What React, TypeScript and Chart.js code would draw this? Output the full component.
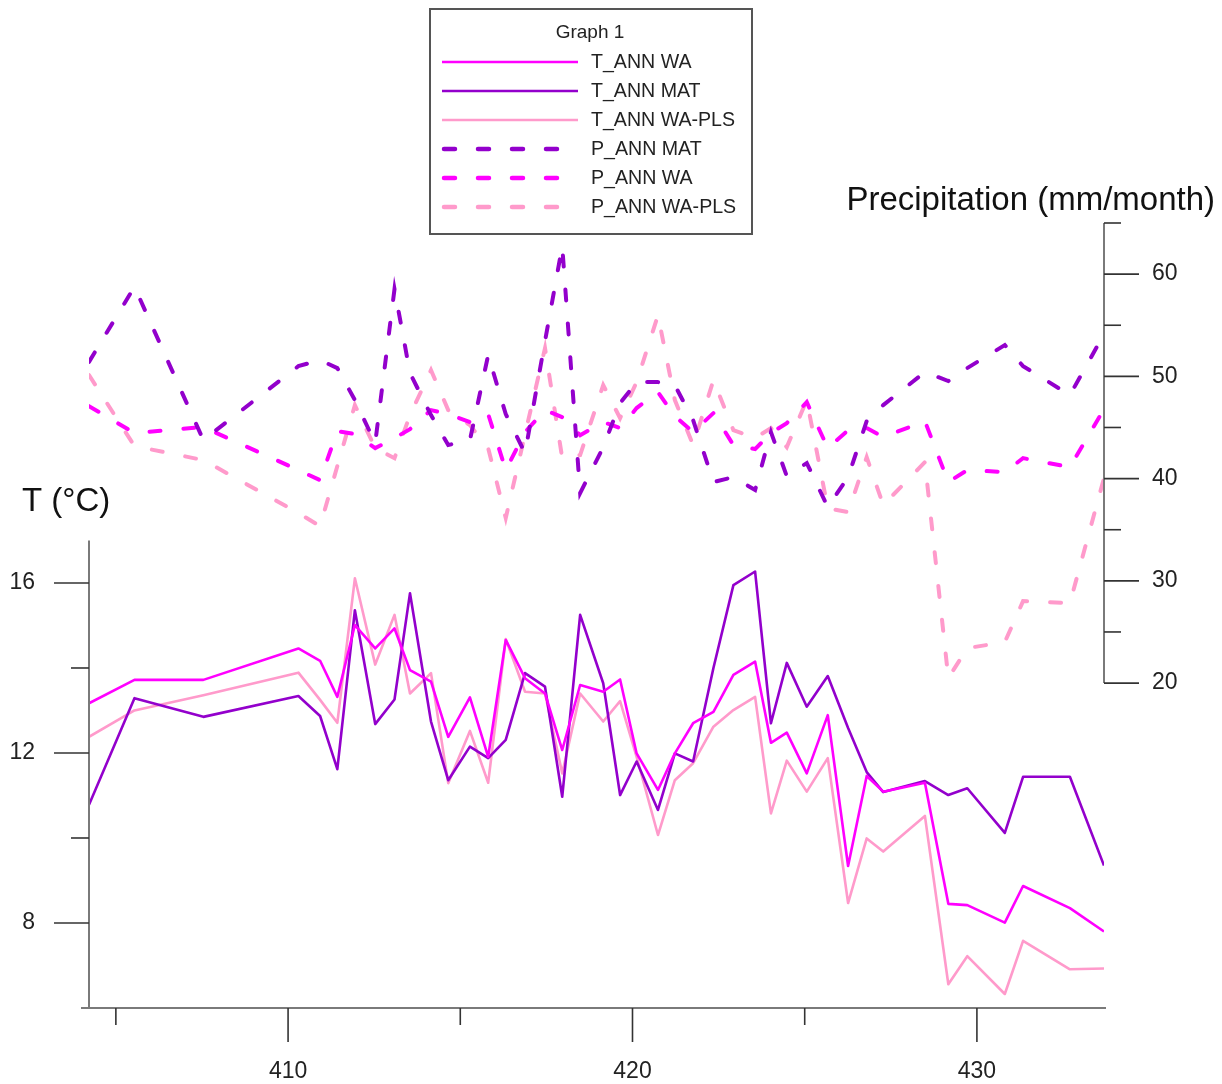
import React, { useEffect, useRef } from "react";
import { Chart, registerables } from "chart.js";

Chart.register(...registerables);

// ---- Data (ages in ka, shared by all series) ----
const ages = [404.22, 405.54, 407.54, 410.30, 410.93, 411.43, 411.94, 412.53, 413.09, 413.54, 414.15, 414.65, 415.28, 415.81, 416.32, 416.88, 417.46, 417.96, 418.48, 419.15, 419.64, 420.12, 420.74, 421.23, 421.76, 422.35, 422.93, 423.56, 424.02, 424.48, 425.06, 425.67, 426.26, 426.80, 427.28, 428.49, 429.17, 429.72, 430.81, 431.34, 432.70, 433.69];

const tWA = [13.17, 13.72, 13.72, 14.46, 14.17, 13.32, 15.01, 14.46, 14.93, 13.95, 13.68, 12.38, 13.31, 11.91, 14.66, 13.76, 13.40, 12.07, 13.60, 13.44, 13.73, 11.99, 11.13, 11.99, 12.70, 12.97, 13.84, 14.15, 12.24, 12.48, 11.52, 12.89, 9.34, 11.46, 11.09, 11.30, 8.45, 8.42, 8.01, 8.87, 8.35, 7.80];
const tMAT = [10.78, 13.29, 12.85, 13.34, 12.87, 11.62, 15.36, 12.68, 13.26, 15.76, 12.74, 11.36, 12.15, 11.88, 12.31, 13.88, 13.56, 10.97, 15.25, 13.64, 11.01, 11.80, 10.66, 11.99, 11.80, 14.00, 15.95, 16.27, 12.70, 14.12, 13.09, 13.81, 12.59, 11.55, 11.08, 11.34, 11.01, 11.17, 10.12, 11.44, 11.44, 9.35];
const tPLS = [12.38, 13.00, 13.36, 13.89, 13.25, 12.71, 16.11, 14.08, 15.25, 13.40, 13.88, 11.29, 12.52, 11.30, 14.68, 13.44, 13.40, 11.52, 13.40, 12.74, 13.22, 11.91, 10.07, 11.36, 11.76, 12.62, 13.01, 13.32, 10.58, 11.82, 11.09, 11.88, 8.47, 9.99, 9.68, 10.52, 6.56, 7.22, 6.33, 7.58, 6.91, 6.93];

const pMAT = [51.42, 58.76, 43.77, 51.0, 51.59, 50.81, 47.68, 43.47, 58.53, 50.32, 46.21, 43.28, 43.77, 52.08, 46.31, 42.49, 53.45, 62.74, 38.58, 43.08, 47.38, 49.44, 49.44, 49.14, 45.72, 39.66, 40.15, 38.88, 44.55, 40.24, 41.52, 37.21, 40.15, 45.62, 47.19, 50.42, 49.54, 50.81, 53.06, 51.0, 48.17, 54.13];
const pWA = [47.09, 44.45, 45.04, 40.83, 39.85, 44.65, 44.35, 42.98, 43.96, 44.84, 46.70, 46.31, 45.53, 46.31, 40.83, 44.55, 46.70, 46.01, 44.25, 45.53, 44.94, 46.90, 48.46, 46.11, 44.55, 46.41, 43.28, 42.89, 44.45, 45.43, 47.48, 42.98, 44.74, 44.94, 44.06, 45.62, 39.66, 40.83, 40.64, 42.0, 41.12, 46.80];
const pPLS = [50.12, 43.18, 41.81, 36.63, 35.35, 41.22, 47.19, 42.98, 42.0, 46.21, 50.61, 46.70, 45.23, 42.98, 36.14, 44.35, 52.76, 42.0, 42.30, 49.14, 45.92, 49.44, 55.99, 47.68, 43.28, 49.63, 44.74, 43.96, 44.94, 43.08, 47.68, 37.11, 36.72, 42.10, 37.41, 41.61, 20.49, 23.42, 24.01, 28.02, 27.82, 40.05];

// ---- Axis ticks ----
const xMajorTicks = [410, 420, 430];
const xMinorTicks = [405, 415, 425];
const tMajorTicks = [8, 12, 16];
const tMinorTicks = [10, 14];
const tAxisRange = [6, 17];
const pMajorTicks = [20, 30, 40, 50, 60];
const pMinorTicks = [25, 35, 45, 55, 65];
const pAxisRange = [20, 65];

const legendLabels = ["T_ANN WA", "T_ANN MAT", "T_ANN WA-PLS", "P_ANN MAT", "P_ANN WA", "P_ANN WA-PLS"];

const MAGENTA = "#FF00FF";
const PURPLE = "#9300CC";
const PINK = "#FF9ACB";
const FONT = "'Liberation Sans', Arial, sans-serif";

const toPoints = (vals: number[]) => ages.map((x, i) => ({ x, y: vals[i] }));

const customPlugin = {
  id: "customAxes",
  afterDraw(chart: any) {
    const ctx = chart.ctx as CanvasRenderingContext2D;
    const xs = chart.scales.x;
    const yT = chart.scales.yT;
    const yP = chart.scales.yP;
    const left = chart.chartArea.left;
    const right = chart.chartArea.right;
    const bottom = chart.chartArea.bottom;
    ctx.save();

    // axis lines
    ctx.strokeStyle = "#7a7a7a";
    ctx.lineWidth = 2;
    ctx.beginPath();
    ctx.moveTo(left, yT.getPixelForValue(tAxisRange[1]));
    ctx.lineTo(left, bottom);
    ctx.stroke();
    ctx.beginPath();
    ctx.moveTo(left - 8, bottom);
    ctx.lineTo(right + 2, bottom);
    ctx.stroke();
    ctx.beginPath();
    ctx.moveTo(right, yP.getPixelForValue(pAxisRange[1]));
    ctx.lineTo(right, yP.getPixelForValue(pAxisRange[0]));
    ctx.stroke();

    // ticks
    ctx.strokeStyle = "#333";
    ctx.lineWidth = 1.6;
    const line = (x1: number, y1: number, x2: number, y2: number) => {
      ctx.beginPath();
      ctx.moveTo(x1, y1);
      ctx.lineTo(x2, y2);
      ctx.stroke();
    };
    tMajorTicks.forEach((v) => { const y = yT.getPixelForValue(v); line(left - 35, y, left, y); });
    tMinorTicks.forEach((v) => { const y = yT.getPixelForValue(v); line(left - 18, y, left, y); });
    pMajorTicks.forEach((v) => { const y = yP.getPixelForValue(v); line(right, y, right + 35, y); });
    pMinorTicks.forEach((v) => { const y = yP.getPixelForValue(v); line(right, y, right + 17, y); });
    xMajorTicks.forEach((v) => { const x = xs.getPixelForValue(v); line(x, bottom, x, bottom + 34); });
    xMinorTicks.forEach((v) => { const x = xs.getPixelForValue(v); line(x, bottom, x, bottom + 17); });

    // tick labels
    ctx.fillStyle = "#222";
    ctx.font = `23px ${FONT}`;
    ctx.textBaseline = "middle";
    ctx.textAlign = "right";
    tMajorTicks.forEach((v) => ctx.fillText(String(v), left - 54, yT.getPixelForValue(v)));
    ctx.textAlign = "left";
    pMajorTicks.forEach((v) => ctx.fillText(String(v), right + 48, yP.getPixelForValue(v)));
    ctx.textAlign = "center";
    xMajorTicks.forEach((v) => ctx.fillText(String(v), xs.getPixelForValue(v), bottom + 64));

    // axis titles
    ctx.fillStyle = "#111";
    ctx.font = `33px ${FONT}`;
    ctx.textBaseline = "alphabetic";
    ctx.textAlign = "left";
    ctx.fillText("T (°C)", left - 67, yT.getPixelForValue(tAxisRange[1]) - 29);
    ctx.textAlign = "right";
    ctx.fillText("Precipitation (mm/month)", right + 111, yP.getPixelForValue(pAxisRange[1]) - 13);

    // legend
    const bx = 430, by = 9, bw = 322, bh = 225;
    ctx.fillStyle = "#fff";
    ctx.fillRect(bx, by, bw, bh);
    ctx.strokeStyle = "#555";
    ctx.lineWidth = 2;
    ctx.strokeRect(bx, by, bw, bh);
    ctx.fillStyle = "#222";
    ctx.font = `19px ${FONT}`;
    ctx.textAlign = "center";
    ctx.textBaseline = "middle";
    ctx.fillText("Graph 1", 590, 33);
    const ds = chart.data.datasets;
    ctx.font = `19.6px ${FONT}`;
    ctx.textAlign = "left";
    for (let i = 0; i < ds.length; i++) {
      const y = 62 + i * 29;
      const d = ds[i];
      ctx.strokeStyle = d.borderColor;
      if (d.borderDash && d.borderDash.length) {
        ctx.lineWidth = 4.5;
        ctx.lineCap = "round";
        ctx.setLineDash([11, 23]);
        line(444, y, 557, y);
        ctx.setLineDash([]);
        ctx.lineCap = "butt";
      } else {
        ctx.lineWidth = 2.6;
        line(442, y, 578, y);
      }
      ctx.fillStyle = "#222";
      ctx.fillText(d.label, 591, y + 1);
    }
    ctx.restore();
  },
};

export default function App() {
  const canvasRef = useRef<HTMLCanvasElement | null>(null);

  useEffect(() => {
    if (!canvasRef.current) return;
    const solid = (label: string, vals: number[], color: string, order: number) => ({
      label,
      data: toPoints(vals),
      borderColor: color,
      backgroundColor: color,
      borderWidth: 2.6,
      pointRadius: 0,
      tension: 0,
      yAxisID: "yT",
      order,
      borderJoinStyle: "round" as const,
    });
    const dashed = (label: string, vals: number[], color: string, order: number) => ({
      label,
      data: toPoints(vals),
      borderColor: color,
      backgroundColor: color,
      borderWidth: 4,
      borderDash: [11, 23],
      borderCapStyle: "round" as const,
      pointRadius: 0,
      tension: 0,
      yAxisID: "yP",
      order,
    });
    const chart = new Chart(canvasRef.current, {
      type: "line",
      data: {
        datasets: [
          solid(legendLabels[0], tWA, MAGENTA, 1),
          solid(legendLabels[1], tMAT, PURPLE, 2),
          solid(legendLabels[2], tPLS, PINK, 3),
          dashed(legendLabels[3], pMAT, PURPLE, 4),
          dashed(legendLabels[4], pWA, MAGENTA, 5),
          dashed(legendLabels[5], pPLS, PINK, 6),
        ] as any,
      },
      options: {
        animation: false,
        responsive: false,
        devicePixelRatio: 1,
        layout: { padding: { left: 89, right: 118, top: 223, bottom: 76 } },
        plugins: { legend: { display: false }, tooltip: { enabled: false } },
        scales: {
          x: { type: "linear", min: 404.22, max: 433.69, display: false },
          yT: { type: "linear", min: 6, max: 24.47, display: false },
          yP: { type: "linear", min: -11.78, max: 65, display: false },
        },
      },
      plugins: [customPlugin],
    });
    return () => chart.destroy();
  }, []);

  return (
    <div style={{ position: "absolute", left: 0, top: 0, width: 1222, height: 1084, background: "#fff" }}>
      <canvas ref={canvasRef} width={1222} height={1084} />
    </div>
  );
}
